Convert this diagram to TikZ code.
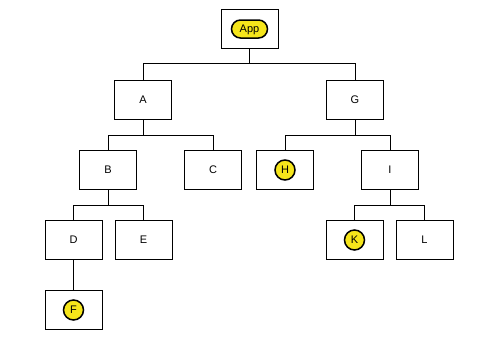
\documentclass[tikz,border=0pt]{standalone}
\usepackage{fontspec}
\setmainfont{Liberation Sans}
\definecolor{hl}{HTML}{F5E51B}
\begin{document}
\begin{tikzpicture}[x=1pt,y=-1pt,
  lbl/.style={font=\fontsize{11}{13}\selectfont},
  box/.style={draw=black,line width=0.9pt,fill=white,minimum width=57pt,minimum height=39pt,inner sep=0pt,lbl,
    append after command={
      [draw=black,line width=0.6pt] ([xshift=0.7pt]\tikzlastnode.north east) -- ([shift={(0.7pt,-0.7pt)}]\tikzlastnode.south east) -- ([shift={(0pt,-0.7pt)}]\tikzlastnode.south west)}},
  link/.style={draw=black,line width=0.9pt},
  hlpill/.style={draw=black,line width=1.5pt,fill=hl,rounded corners=9pt,minimum width=36pt,minimum height=18pt,inner sep=0pt,text height=7.5pt,text depth=0pt,lbl},
  hlcirc/.style={draw=black,line width=1.5pt,fill=hl,circle,minimum size=20pt,inner sep=0pt,lbl}
]
\useasboundingbox (0,0) rectangle (504,340);
\fill[white] (0,0) rectangle (504,340);
% nodes
\node[box] (app) at (249.5,29) {};
\node[box] (a) at (143,100) {A};
\node[box] (g) at (355,100) {G};
\node[box] (b) at (108,170) {B};
\node[box] (c) at (213,170) {C};
\node[box] (h) at (285,170) {};
\node[box] (i) at (390,170) {I};
\node[box] (d) at (73.5,240) {D};
\node[box] (e) at (143.5,240) {E};
\node[box] (k) at (354.5,240) {};
\node[box] (l) at (424.5,240) {L};
\node[box] (f) at (73.5,310) {};
% highlights
\node[hlpill] (apptxt) at (app) {App};
\node[hlcirc] (htxt) at (h) {H};
\node[hlcirc] (ktxt) at (k) {K};
\node[hlcirc] (ftxt) at (f) {F};
% buses
\coordinate (bus0) at (249.5,63);
\coordinate (bus1) at (143,135);
\coordinate (bus2) at (355,135);
\coordinate (bus3) at (108,205);
\coordinate (bus4) at (390,205);
\draw[link] (app.south) -- (bus0);
\draw[link] (a.north) |- (g.north |- bus0) -- (g.north);
\draw[link] (a.south) -- (bus1);
\draw[link] (b.north) |- (c.north |- bus1) -- (c.north);
\draw[link] (g.south) -- (bus2);
\draw[link] (h.north) |- (i.north |- bus2) -- (i.north);
\draw[link] (b.south) -- (bus3);
\draw[link] (d.north) |- (e.north |- bus3) -- (e.north);
\draw[link] (i.south) -- (bus4);
\draw[link] (k.north) |- (l.north |- bus4) -- (l.north);
\draw[link] (d.south) -- (f.north);
\end{tikzpicture}
\end{document}
